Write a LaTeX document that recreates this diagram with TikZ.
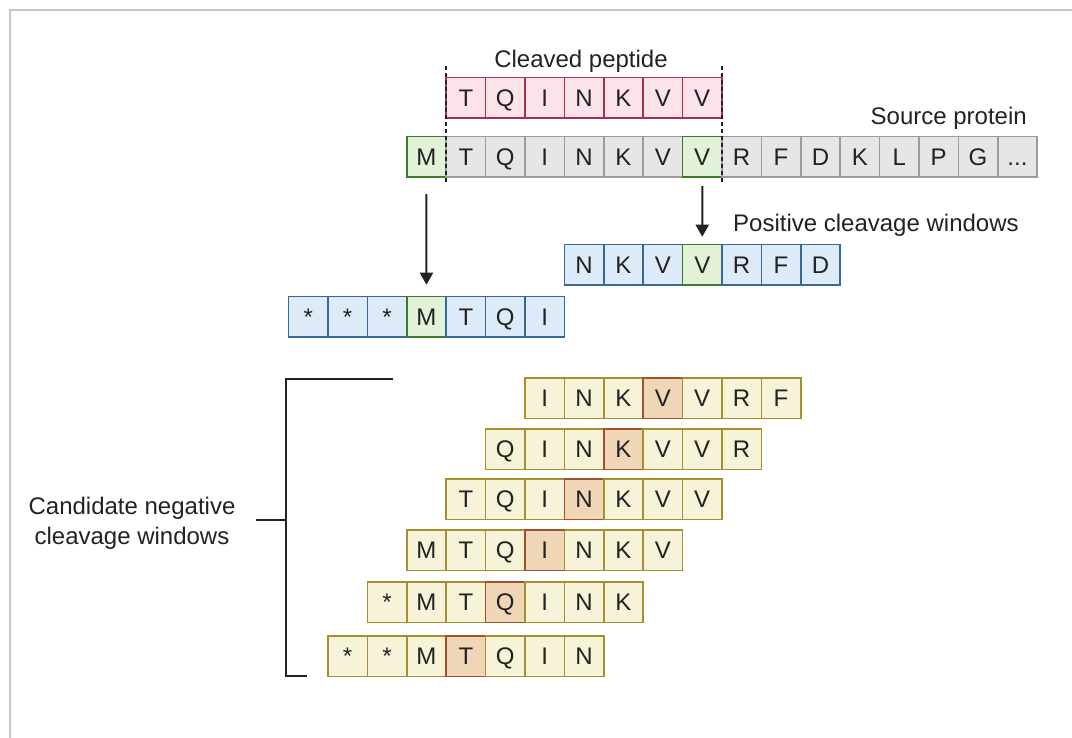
\documentclass[tikz,border=0pt]{standalone}
\usepackage{fontspec}
\setmainfont{Liberation Sans}
\tikzset{>=latex}
\usetikzlibrary{matrix,arrows.meta}

\definecolor{srcfill}{HTML}{E6E6E6}
\definecolor{srcline}{HTML}{9C9C9C}
\definecolor{pepfill}{HTML}{FBE3E9}
\definecolor{pepline}{HTML}{A3324F}
\definecolor{hitfill}{HTML}{E1F2D9}
\definecolor{hitline}{HTML}{3D7A2B}
\definecolor{posfill}{HTML}{DDEAF7}
\definecolor{posline}{HTML}{36689A}
\definecolor{negfill}{HTML}{F6F3D8}
\definecolor{negline}{HTML}{A68F2F}
\definecolor{midfill}{HTML}{EFD6B6}
\definecolor{midline}{HTML}{A0522D}
\definecolor{framegray}{HTML}{C8C8C8}
\definecolor{ink}{HTML}{222222}

\tikzstyle{rescell} = [draw, rectangle, minimum width=39.4pt, minimum height=40.5pt, inner sep=0pt, outer sep=0pt, line width=1.5pt, text height=17pt, text depth=0pt, text=ink]
\tikzstyle{srccell} = [rescell, fill=srcfill, draw=srcline]
\tikzstyle{pepcell} = [rescell, fill=pepfill, draw=pepline]
\tikzstyle{hitcell} = [rescell, fill=hitfill, draw=hitline]
\tikzstyle{poscell} = [rescell, fill=posfill, draw=posline]
\tikzstyle{negcell} = [rescell, fill=negfill, draw=negline]
\tikzstyle{midcell} = [rescell, fill=midfill, draw=midline]
\tikzstyle{seqrow} = [matrix of nodes, anchor=north west, inner sep=0pt, outer sep=0pt, column sep=-1.5pt]
\tikzstyle{caption} = [text=ink, inner sep=0pt]

\begin{document}
\begin{tikzpicture}[x=1pt,y=-1pt,font=\fontsize{24}{30}\selectfont]

\useasboundingbox (0,0) rectangle (1072,738);
\draw[framegray,line width=1.5pt] (1072,10) -- (10,10) -- (10,738);

% Sequence rows
\matrix[seqrow,nodes={srccell}] (src) at (406,136)
{
	|[hitcell]|M & T & Q & I & N & K & V & |[hitcell]|V & R & F & D & K & L & P & G & ... \\
};

\matrix[seqrow,nodes={pepcell}] (pep) at (445.4,77)
{
	T & Q & I & N & K & V & V \\
};

\matrix[seqrow,nodes={poscell}] (pwin) at (563.6,244)
{
	N & K & V & |[hitcell]|V & R & F & D \\
};

\matrix[seqrow,nodes={poscell}] (lwin) at (287.8,296)
{
	* & * & * & |[hitcell]|M & T & Q & I \\
};

% Negative windows
\matrix[seqrow,nodes={negcell}] (neg1) at (524.2,377)
{
	I & N & K & |[midcell]|V & V & R & F \\
};
\matrix[seqrow,nodes={negcell}] (neg2) at (484.8,428)
{
	Q & I & N & |[midcell]|K & V & V & R \\
};
\matrix[seqrow,nodes={negcell}] (neg3) at (445.4,478)
{
	T & Q & I & |[midcell]|N & K & V & V \\
};
\matrix[seqrow,nodes={negcell}] (neg4) at (406,529)
{
	M & T & Q & |[midcell]|I & N & K & V \\
};
\matrix[seqrow,nodes={negcell}] (neg5) at (366.6,581)
{
	* & M & T & |[midcell]|Q & I & N & K \\
};
\matrix[seqrow,nodes={negcell}] (neg6) at (327.2,635)
{
	* & * & M & |[midcell]|T & Q & I & N \\
};

% Cut marks
\draw[ink,line width=1.5pt,dash pattern=on 4pt off 3pt] ([yshift=12pt]pep-1-1.north west) -- ([yshift=-7pt]src-1-2.south west);
\draw[ink,line width=1.5pt,dash pattern=on 4pt off 3pt] ([yshift=12pt]pep-1-7.north east) -- ([yshift=-7pt]src-1-8.south east);

% Arrows
\draw[ink,line width=2pt,-{Triangle[length=12pt,width=13pt]}] ([yshift=-17pt]src-1-1.south) -- ([yshift=12pt]lwin-1-4.north);
\draw[ink,line width=2pt,-{Triangle[length=12pt,width=13pt]}] ([yshift=-9pt]src-1-8.south) -- ([yshift=8pt]pwin-1-4.north);

% Labels
\node[caption,anchor=base] (cleaved) at (581,68) {Cleaved peptide};
\node[caption,anchor=base east] (source) at (1027,125) {Source protein};
\node[caption,anchor=base west] (positive) at (733,232) {Positive cleavage windows};
\node[caption,align=center] (negative) at (132,523) {Candidate negative\\cleavage windows};

% Bracket
\coordinate (btop) at (393,379);
\coordinate (bbot) at (307,676);
\coordinate (btick) at (256,520);
\draw[ink,line width=2.5pt] (btop) -- (286,379) -- (286,676) -- (bbot);
\draw[ink,line width=2.5pt] (btick) -- (286,520);

\end{tikzpicture}
\end{document}
